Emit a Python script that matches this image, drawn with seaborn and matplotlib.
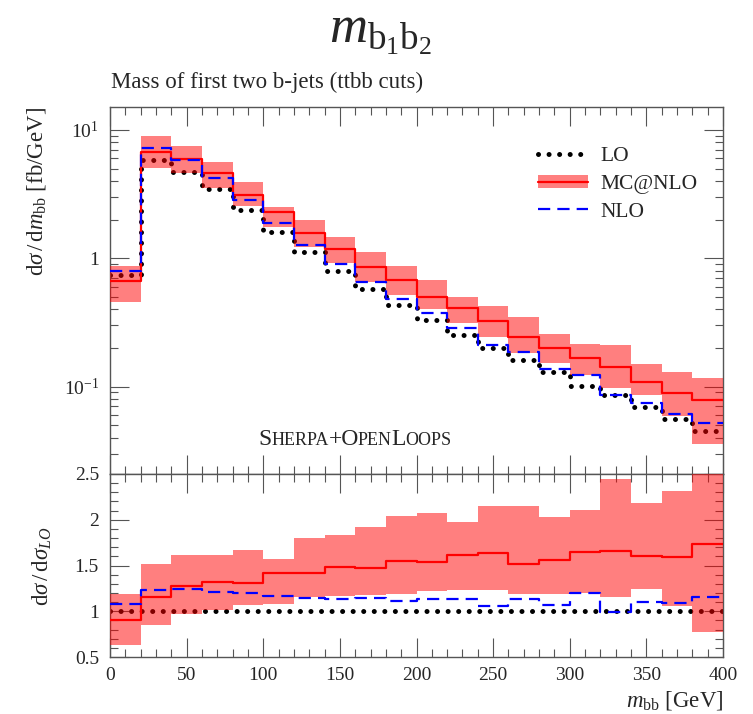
import numpy as np
import pandas as pd
import seaborn as sns
import matplotlib
matplotlib.use("Agg")
import matplotlib.pyplot as plt
from matplotlib.lines import Line2D
from matplotlib.patches import Patch
from matplotlib.ticker import MultipleLocator, FixedLocator, FixedFormatter, LogLocator, NullFormatter
from matplotlib.font_manager import FontProperties, findfont
from matplotlib.ft2font import FT2Font

# ---------------- data ----------------
bin_edges = list(range(0, 401, 20))
lo_xs = [0.74, 5.84, 4.68, 3.49, 2.38, 1.59, 1.11, 0.80, 0.577, 0.433,
         0.329, 0.253, 0.199, 0.161, 0.129, 0.101, 0.0852, 0.069, 0.056, 0.0454]
nlo_xs = [0.80, 7.24, 5.84, 4.23, 2.85, 1.87, 1.27, 0.90, 0.658, 0.482,
          0.377, 0.285, 0.211, 0.185, 0.138, 0.122, 0.0856, 0.075, 0.0609, 0.0524]
mc_xs = [0.67, 6.78, 5.94, 4.62, 3.12, 2.30, 1.57, 1.19, 0.861, 0.678,
         0.503, 0.413, 0.327, 0.245, 0.199, 0.168, 0.142, 0.109, 0.0887, 0.0787]
mc_xs_low = [0.457, 5.03, 4.59, 3.55, 2.56, 1.74, 1.23, 0.914, 0.658, 0.518,
             0.401, 0.315, 0.245, 0.182, 0.152, 0.123, 0.098, 0.0856, 0.0594, 0.0357]
mc_xs_high = [0.877, 8.98, 7.55, 5.60, 3.96, 2.53, 1.99, 1.46, 1.11, 0.877,
              0.678, 0.503, 0.428, 0.347, 0.259, 0.214, 0.209, 0.150, 0.129, 0.117]

lo_ratio = [1.0] * 20
nlo_ratio = [1.084, 1.237, 1.245, 1.208, 1.20, 1.168, 1.15, 1.139, 1.146, 1.11,
             1.131, 1.131, 1.062, 1.139, 1.073, 1.197, 0.993, 1.099, 1.088, 1.153]
mc_ratio = [0.905, 1.16, 1.274, 1.32, 1.31, 1.42, 1.423, 1.48, 1.474, 1.55,
            1.54, 1.617, 1.64, 1.515, 1.562, 1.65, 1.66, 1.602, 1.595, 1.73]
mc_ratio_low = [0.628, 0.85, 0.967, 1.01, 1.066, 1.084, 1.157, 1.164, 1.175, 1.186,
                1.219, 1.23, 1.23, 1.193, 1.193, 1.20, 1.153, 1.248, 1.055, 0.77]
mc_ratio_high = [1.193, 1.52, 1.61, 1.613, 1.67, 1.566, 1.796, 1.83, 1.916, 2.04,
                 2.077, 1.98, 2.15, 2.15, 2.026, 2.106, 2.44, 2.18, 2.31, 2.6]

upper_yticks = [0.1, 1, 10]
upper_yticklabels = [r"$10^{-1}$", "1", r"$10^{1}$"]
x_ticks = [0, 50, 100, 150, 200, 250, 300, 350, 400]
ratio_yticks = [0.5, 1, 1.5, 2, 2.5]
ratio_yticklabels = ["0.5", "1", "1.5", "2", "2.5"]

# ---------------- style ----------------
sns.set_theme(style="ticks")
FAM = ["Liberation Serif", "DejaVu Serif"]
plt.rcParams["font.family"] = FAM
plt.rcParams["mathtext.fontset"] = "custom"
plt.rcParams["mathtext.rm"] = "Liberation Serif"
plt.rcParams["mathtext.it"] = "Liberation Serif:italic"
plt.rcParams["mathtext.bf"] = "Liberation Serif:bold"

W, H = 753, 714
DPI = 100
fig = plt.figure(figsize=(W / DPI, H / DPI), dpi=DPI)
L, R = 110 / W, 723 / W
top_up, mid, bot = 1 - 107 / H, 1 - 474 / H, 1 - 657 / H
ax = fig.add_axes([L, mid, R - L, top_up - mid])
axr = fig.add_axes([L, bot, R - L, mid - bot], sharex=ax)

LO_STYLE = dict(color="black", lw=3.6, linestyle=(0, (0.01, 2.1)), dash_capstyle="round")
NLO_STYLE = dict(color="#0000ff", lw=1.6, linestyle=(0, (5.5, 3.2)))
MC_STYLE = dict(color="#ff0000", lw=1.6)
BAND = dict(color="#ff0000", alpha=0.5, lw=0)


def steps(vals):
    return pd.DataFrame({"x": bin_edges, "y": list(vals) + [vals[-1]]})


def draw(a, lo, band_lo, band_hi, mc, nlo):
    sns.lineplot(data=steps(lo), x="x", y="y", ax=a, drawstyle="steps-post",
                 estimator=None, sort=False, zorder=2, **LO_STYLE)
    a.fill_between(bin_edges, list(band_lo) + [band_lo[-1]], list(band_hi) + [band_hi[-1]],
                   step="post", zorder=3, **BAND)
    sns.lineplot(data=steps(mc), x="x", y="y", ax=a, drawstyle="steps-post",
                 estimator=None, sort=False, zorder=4, **MC_STYLE)
    sns.lineplot(data=steps(nlo), x="x", y="y", ax=a, drawstyle="steps-post",
                 estimator=None, sort=False, zorder=5, **NLO_STYLE)


draw(ax, lo_xs, mc_xs_low, mc_xs_high, mc_xs, nlo_xs)
draw(axr, lo_ratio, mc_ratio_low, mc_ratio_high, mc_ratio, nlo_ratio)

# ---------------- axes ----------------
ax.set_yscale("log")
ax.set_xlim(0, 400)
ax.set_ylim(0.0208, 15.1)
axr.set_ylim(0.5, 2.5)

for a in (ax, axr):
    a.set_xlabel("")
    a.set_ylabel("")
    a.xaxis.set_major_locator(FixedLocator(x_ticks))
    a.xaxis.set_minor_locator(MultipleLocator(10))
    a.tick_params(which="both", direction="in", top=True, right=True,
                  color="#555555", width=0.8, labelsize=14)
    a.tick_params(which="major", length=13.5, pad=8)
    a.tick_params(which="minor", length=5.5)
    for s in a.spines.values():
        s.set_color("#555555")
        s.set_linewidth(1.0)
axr.tick_params(axis="x", which="major", pad=7)

ax.yaxis.set_major_locator(FixedLocator(upper_yticks))
ax.yaxis.set_major_formatter(FixedFormatter(upper_yticklabels))
ax.yaxis.set_minor_locator(LogLocator(base=10, subs=np.arange(2, 10)))
ax.yaxis.set_minor_formatter(NullFormatter())
ax.tick_params(axis="x", labelbottom=False)

axr.yaxis.set_major_locator(FixedLocator(ratio_yticks))
axr.yaxis.set_major_formatter(FixedFormatter(ratio_yticklabels))
axr.yaxis.set_minor_locator(MultipleLocator(0.1))
axr.set_xticklabels([str(t) for t in x_ticks])

# ---------------- legend ----------------
handles = [
    Line2D([], [], **LO_STYLE),
    (Patch(facecolor="#ff0000", alpha=0.5, lw=0), Line2D([], [], **MC_STYLE)),
    Line2D([], [], **NLO_STYLE),
]
ax.legend(handles, ["LO", "MC@NLO", "NLO"], loc="upper left",
          bbox_to_anchor=((538 - 110) / 613, (474 - 147) / 367),
          frameon=False, fontsize=15.5, handlelength=2.3, handletextpad=0.6,
          labelspacing=0.38, borderaxespad=0, borderpad=0, handleheight=0.6)

# ---------------- Sherpa+OpenLoops (small caps) ----------------
big, small = 17, 13
parts = [("S", big), ("HERPA", small), ("+O", big), ("PEN", small), ("L", big), ("OOPS", small)]
kern = [0.0, -2.0, -2.0, 0.0, 0.0, 0.0]
ft = FT2Font(findfont(FontProperties(family="Liberation Serif")))


def advance(s, size_pt):
    ft.set_size(size_pt, DPI)
    return sum(ft.load_char(ord(c)).linearHoriAdvance / 65536.0 for c in s)


widths = [advance(t, s) + k for (t, s), k in zip(parts, kern)]
total = sum(widths)
x0 = 355 - total / 2
baseline = H - 445
for (t, s), w in zip(parts, widths):
    fig.text(x0 / W, baseline / H, t, fontsize=s, family=FAM, ha="left", va="baseline")
    x0 += w

# ---------------- texts ----------------
fig.text(380 / W, 1 - 9 / H, r"$m_{\mathrm{b}_1\mathrm{b}_2}$", ha="center", va="top", fontsize=38)
fig.text(111 / W, 1 - 82 / H, "Mass of first two b-jets (ttbb cuts)", ha="left", va="center",
         fontsize=16.5)
fig.text(37 / W, top_up, r"$\mathrm{d}\sigma\,/\,\mathrm{d}m_{\mathrm{bb}}$ [fb/GeV]", rotation=90,
         ha="center", va="top", fontsize=16.5)
fig.text(42 / W, 1 - 566 / H, r"$\mathrm{d}\sigma\,/\,\mathrm{d}\sigma_{LO}$", rotation=90,
         ha="center", va="center", fontsize=16.5)
fig.text(723 / W, 1 - 701 / H, r"$m_{\mathrm{bb}}$ [GeV]", ha="right", va="center", fontsize=16.5)

fig.savefig("out.png", dpi=DPI)
